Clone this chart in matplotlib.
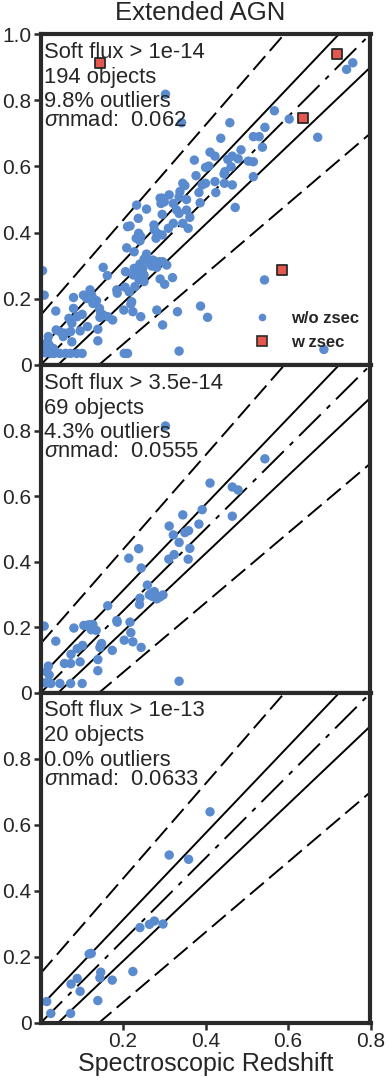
import numpy as np
import matplotlib
matplotlib.use("Agg")
import matplotlib.pyplot as plt
from matplotlib.lines import Line2D

plt.rcParams['font.family'] = ['Liberation Sans', 'DejaVu Sans']
plt.rcParams['mathtext.fontset'] = 'custom'
plt.rcParams['mathtext.it'] = 'Liberation Sans:italic'
plt.rcParams['mathtext.rm'] = 'Liberation Sans'
plt.rcParams['lines.scale_dashes'] = False

# ---------------- data ----------------
title = "Extended AGN"
xlabel = "Spectroscopic Redshift"
zspec_scale = 1.25  # reference lines follow zphot = 1.25 * axis value

# panel 1: soft flux > 1e-14 (w/o zsec)
p1_x = [0.757, 0.742, 0.303, 0.567, 0.603, 0.342, 0.459, 0.544, 0.672, 0.516, 0.530, 0.437, 0.538, 0.486,
        0.411, 0.423, 0.465, 0.454, 0.479, 0.504, 0.516, 0.373, 0.408, 0.400, 0.462, 0.447, 0.445, 0.516,
        0.377, 0.392, 0.400, 0.423, 0.446, 0.465, 0.345, 0.350, 0.384, 0.425, 0.312, 0.338, 0.290,
        0.354, 0.387, 0.472, 0.295, 0.292, 0.300, 0.322, 0.336, 0.233, 0.257, 0.330, 0.336, 0.354, 0.295,
        0.362, 0.237, 0.322, 0.345, 0.310, 0.358, 0.211, 0.217, 0.275, 0.276, 0.283, 0.238, 0.295, 0.280,
        0.232, 0.243, 0.241, 0.209, 0.257, 0.227, 0.251, 0.273, 0.264, 0.288, 0.296, 0.282, 0.270, 0.306,
        0.241, 0.227, 0.248, 0.152, 0.206, 0.237, 0.251, 0.225, 0.162, 0.239, 0.290, 0.320, 0.301, 0.251,
        0.205, 0.229, 0.185, 0.186, 0.215, 0.120, 0.104, 0.124, 0.130, 0.136, 0.127, 0.080, 0.009, 0.005,
        0.143, 0.146, 0.152, 0.163, 0.175, 0.144, 0.221, 0.219, 0.224, 0.202, 0.243, 0.282, 0.296, 0.332,
        0.388, 0.405, 0.336, 0.543, 0.687, 0.037, 0.080, 0.069, 0.076, 0.089, 0.101, 0.096, 0.073, 0.059,
        0.047, 0.038, 0.055, 0.076, 0.114, 0.139, 0.139, 0.019, 0.017, 0.021, 0.013, 0.011, 0.025, 0.033,
        0.047, 0.061, 0.073, 0.088, 0.101, 0.203, 0.211, 0.031, 0.112]
p1_y = [0.913, 0.893, 0.818, 0.768, 0.743, 0.732, 0.732, 0.718, 0.688, 0.690, 0.690, 0.685, 0.658, 0.650,
        0.643, 0.631, 0.631, 0.621, 0.623, 0.616, 0.614, 0.619, 0.601, 0.597, 0.599, 0.584, 0.577, 0.569,
        0.572, 0.544, 0.549, 0.554, 0.549, 0.544, 0.549, 0.542, 0.521, 0.521, 0.514, 0.524, 0.504,
        0.500, 0.490, 0.476, 0.504, 0.488, 0.493, 0.488, 0.508, 0.483, 0.471, 0.468, 0.458, 0.468, 0.455,
        0.446, 0.443, 0.428, 0.428, 0.413, 0.413, 0.418, 0.420, 0.423, 0.408, 0.398, 0.398, 0.393, 0.383,
        0.383, 0.388, 0.375, 0.354, 0.335, 0.342, 0.320, 0.317, 0.310, 0.312, 0.312, 0.295, 0.299, 0.302,
        0.305, 0.292, 0.292, 0.295, 0.282, 0.277, 0.272, 0.272, 0.270, 0.257, 0.260, 0.264, 0.244, 0.252,
        0.235, 0.237, 0.227, 0.217, 0.221, 0.227, 0.211, 0.211, 0.198, 0.194, 0.186, 0.204, 0.211, 0.285,
        0.171, 0.156, 0.151, 0.146, 0.136, 0.144, 0.191, 0.184, 0.161, 0.166, 0.146, 0.166, 0.121, 0.161,
        0.178, 0.144, 0.042, 0.257, 0.047, 0.163, 0.171, 0.141, 0.126, 0.146, 0.153, 0.103, 0.101, 0.096,
        0.101, 0.106, 0.086, 0.070, 0.116, 0.108, 0.073, 0.086, 0.070, 0.060, 0.055, 0.037, 0.035, 0.035,
        0.035, 0.035, 0.035, 0.035, 0.035, 0.035, 0.035, 0.050, 0.201]
# panel 1: objects with zsec
p1_zsec_x = [0.144, 0.720, 0.636, 0.585]
p1_zsec_y = [0.913, 0.940, 0.747, 0.287]

# panel 2: soft flux > 3.5e-14
p2_x = [0.303, 0.544, 0.411, 0.465, 0.479, 0.465, 0.392, 0.345, 0.384, 0.312, 0.359, 0.350, 0.322, 0.336,
        0.362, 0.358, 0.324, 0.311, 0.238, 0.214, 0.244, 0.259, 0.264, 0.276, 0.272, 0.282, 0.297, 0.241,
        0.240, 0.163, 0.185, 0.186, 0.217, 0.219, 0.224, 0.203, 0.244, 0.174, 0.148, 0.144, 0.118, 0.123,
        0.135, 0.105, 0.081, 0.102, 0.089, 0.074, 0.096, 0.073, 0.058, 0.139, 0.139, 0.037, 0.009, 0.019,
        0.015, 0.021, 0.011, 0.025, 0.047, 0.073, 0.101, 0.336, 0.127, 0.146, 0.290, 0.268, 0.112]
p2_y = [0.814, 0.714, 0.640, 0.628, 0.619, 0.539, 0.559, 0.543, 0.515, 0.509, 0.495, 0.489, 0.482, 0.459,
        0.441, 0.408, 0.422, 0.408, 0.440, 0.411, 0.381, 0.329, 0.299, 0.309, 0.294, 0.287, 0.299, 0.289,
        0.270, 0.266, 0.221, 0.216, 0.216, 0.184, 0.156, 0.161, 0.139, 0.130, 0.151, 0.139, 0.208, 0.193,
        0.191, 0.206, 0.198, 0.145, 0.135, 0.118, 0.095, 0.090, 0.090, 0.102, 0.068, 0.158, 0.204, 0.082,
        0.065, 0.055, 0.031, 0.029, 0.029, 0.029, 0.029, 0.036, 0.209, 0.145, 0.293, 0.303, 0.206]

# panel 3: soft flux > 1e-13
p3_x = [0.411, 0.312, 0.359, 0.241, 0.264, 0.276, 0.297, 0.118, 0.123, 0.146, 0.144, 0.089, 0.074, 0.096,
        0.174, 0.224, 0.139, 0.015, 0.025, 0.073]
p3_y = [0.640, 0.509, 0.496, 0.289, 0.299, 0.309, 0.300, 0.209, 0.211, 0.154, 0.137, 0.135, 0.118, 0.096,
        0.130, 0.156, 0.068, 0.065, 0.029, 0.029]

flux_labels = ["Soft flux > 1e-14", "Soft flux > 3.5e-14", "Soft flux > 1e-13"]
n_objects = ["194 objects", "69 objects", "20 objects"]
outlier_labels = ["9.8% outliers", "4.3% outliers", "0.0% outliers"]
nmad_labels = [r"$\sigma$nmad:  0.062", r"$\sigma$nmad:  0.0555", r"$\sigma$nmad:  0.0633"]
legend_labels = ["w/o zsec", "w zsec"]

xticks = [0.2, 0.4, 0.6, 0.8]
xticklabels = ["0.2", "0.4", "0.6", "0.8"]
yticks_top = [0, 0.2, 0.4, 0.6, 0.8, 1.0]
yticklabels_top = ["0", "0.2", "0.4", "0.6", "0.8", "1.0"]
yticks = [0, 0.2, 0.4, 0.6, 0.8]
yticklabels = ["0", "0.2", "0.4", "0.6", "0.8"]

# ---------------- style ----------------
BLUE = '#5b8bcf'
RED = '#e5564c'
DARK = '#2a2a2a'
TXT = '#262626'

W, H = 389, 1078
fig = plt.figure(figsize=(W / 100, H / 100), dpi=100)

left = 40.5 / W
width = 330 / W
panel_px = [(34, 365), (365, 693), (693, 1023)]

series = [(p1_x, p1_y), (p2_x, p2_y), (p3_x, p3_y)]
axes = []
for i, (top_px, bot_px) in enumerate(panel_px):
    ax = fig.add_axes([left, 1 - bot_px / H, width, (bot_px - top_px) / H])
    axes.append(ax)
    ax.set_xlim(0, 0.8)
    ax.set_ylim(0, 1.0)

    xs = np.linspace(0, 0.8, 400)
    zs = zspec_scale * xs
    lw = 1.4
    ax.plot(xs, zs, color='black', lw=lw, linestyle=(0, (22, 6, 3.5, 6)), zorder=2)
    for s in (1, -1):
        ax.plot(xs, zs + s * 0.05 * (1 + zs), color='black', lw=lw, zorder=2)
        ax.plot(xs, zs + s * 0.15 * (1 + zs), color='black', lw=lw, linestyle=(0, (13, 5)), zorder=2)

    px, py = series[i]
    ax.scatter(px, py, s=46, color=BLUE, edgecolors='none', zorder=3)

    for sp in ax.spines.values():
        sp.set_linewidth(3.0)
        sp.set_color(DARK)
        sp.set_zorder(5)

    if i == 0:
        ax.set_yticks(yticks_top)
        ax.set_yticklabels(yticklabels_top)
    else:
        ax.set_yticks(yticks)
        ax.set_yticklabels(yticklabels)
    if i == 2:
        ax.set_xticks(xticks)
        ax.set_xticklabels(xticklabels)
    else:
        ax.set_xticks([])
    ax.tick_params(axis='both', direction='out', length=5, width=1.8, color=DARK,
                   labelsize=15, labelcolor=TXT, pad=1.5)
    ax.tick_params(axis='x', pad=1.5)

    hpx = bot_px - top_px
    lines = [flux_labels[i], n_objects[i], outlier_labels[i], nmad_labels[i]]
    offs = [23.5, 48.5, 72.7, 91.5]
    for txt, o in zip(lines, offs):
        ax.text(0.011, 1 - o / hpx, txt, transform=ax.transAxes, ha='left', va='baseline',
                fontsize=15.8, color=TXT, zorder=6)

ax1 = axes[0]
ax1.scatter(p1_zsec_x, p1_zsec_y, s=44, marker='s', facecolor=RED, edgecolor=DARK,
            linewidths=1.3, zorder=4)

handles = [Line2D([], [], marker='o', ls='', color=BLUE, markeredgecolor='none', markersize=5.5),
           Line2D([], [], marker='s', ls='', markerfacecolor=RED, markeredgecolor=DARK,
                  markeredgewidth=1.2, markersize=6.5)]
ax1.legend(handles, legend_labels, loc='lower right', bbox_to_anchor=(0.985, 0.025),
           frameon=False, prop={'family': 'Liberation Sans', 'weight': 'bold', 'size': 12},
           handletextpad=1.2, labelspacing=0.55, borderaxespad=0, handlelength=1.0,
           labelcolor=TXT)

fig.text(200 / W, 1 - 13 / H, title, ha='center', va='center', fontsize=18.5, color=TXT)
fig.text(206 / W, 1 - 1064 / H, xlabel, ha='center', va='center', fontsize=18, color=TXT)

fig.savefig("out.png", dpi=100)
